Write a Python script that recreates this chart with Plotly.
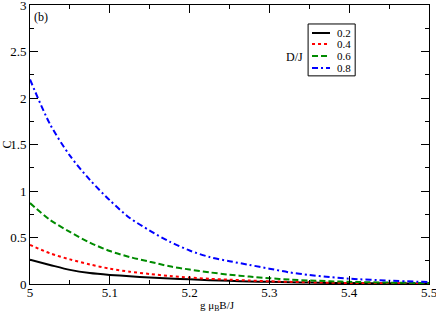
import plotly.graph_objects as go

x_vals = [5.0, 5.025, 5.05, 5.075, 5.1, 5.125, 5.15, 5.175, 5.2, 5.225, 5.25,
          5.275, 5.3, 5.325, 5.35, 5.375, 5.4, 5.45, 5.5]
c_02 = [0.26, 0.205, 0.152, 0.118, 0.098, 0.083, 0.069, 0.058, 0.05, 0.041, 0.034,
        0.028, 0.023, 0.018, 0.015, 0.012, 0.01, 0.007, 0.004]
c_04 = [0.42, 0.33, 0.265, 0.21, 0.165, 0.132, 0.108, 0.086, 0.07, 0.056, 0.046,
        0.037, 0.029, 0.023, 0.018, 0.014, 0.011, 0.007, 0.004]
c_06 = [0.87, 0.69, 0.56, 0.445, 0.355, 0.29, 0.24, 0.19, 0.155, 0.125, 0.1,
        0.08, 0.062, 0.048, 0.038, 0.03, 0.023, 0.015, 0.01]
c_08 = [2.2, 1.72, 1.38, 1.12, 0.9, 0.71, 0.575, 0.455, 0.36, 0.29, 0.245,
        0.205, 0.165, 0.125, 0.097, 0.075, 0.057, 0.036, 0.02]
labels = ["0.2", "0.4", "0.6", "0.8"]
legend_title = "D/J"
x_title = "g μ<sub>B</sub>B/J"
y_title = "C"

FONT = "Liberation Serif, Times New Roman, serif"
series = [c_02, c_04, c_06, c_08]
colors = ["#000000", "#ff0000", "#008b00", "#0000ff"]
dashes = ["solid", "dot", "6px,3px", "6px,3px,2px,3px"]

fig = go.Figure()
for ys, lab, col, dsh in zip(series, labels, colors, dashes):
    fig.add_trace(go.Scatter(x=x_vals, y=ys, mode="lines", name=lab, showlegend=False,
                             line=dict(color=col, width=2, dash=dsh, shape="spline", smoothing=0.8)))

axis_common = dict(showline=True, linecolor="black", linewidth=1, mirror="allticks",
                   ticks="inside", ticklen=8, tickcolor="black", tickwidth=1,
                   showgrid=False, zeroline=False, automargin=False,
                   ticklabeloverflow="allow",
                   tickfont=dict(family=FONT, size=13, color="black"))

fig.update_xaxes(range=[5, 5.5], dtick=0.1, tick0=5, ticklabelstandoff=-4,
                 minor=dict(dtick=0.05, ticks="inside", ticklen=4, tickcolor="black", showgrid=False),
                 **axis_common)
fig.update_yaxes(range=[0, 3], dtick=0.5, tick0=0,
                 minor=dict(dtick=0.25, ticks="inside", ticklen=4, tickcolor="black", showgrid=False),
                 title=dict(text=y_title, font=dict(family=FONT, size=12, color="black"), standoff=0),
                 **axis_common)

# manual legend box in paper coordinates
box = dict(x0=0.697, x1=0.815, y0=0.746, y1=0.932)
row_y = [0.8996, 0.8602, 0.8172, 0.7742]
shapes = [dict(type="rect", xref="paper", yref="paper", **box,
               line=dict(color="black", width=1), fillcolor="white", layer="above")]
annotations = [
    dict(text="(b)", x=0.005, y=0.99, xref="paper", yref="paper",
         xanchor="left", yanchor="top", showarrow=False,
         font=dict(family=FONT, size=12, color="black")),
    dict(text=legend_title, x=0.689, y=0.8136, xref="paper", yref="paper",
         xanchor="right", yanchor="middle", showarrow=False,
         font=dict(family=FONT, size=12, color="black")),
    dict(text=x_title, x=0.4687, y=-0.079, xref="paper", yref="paper",
         xanchor="center", yanchor="middle", showarrow=False,
         font=dict(family=FONT, size=11, color="black")),
]
for lab, col, dsh, ry in zip(labels, colors, dashes, row_y):
    shapes.append(dict(type="line", xref="paper", yref="paper", x0=0.7068, x1=0.7519, y0=ry, y1=ry,
                       line=dict(color=col, width=2, dash=dsh), layer="above"))
    annotations.append(dict(text=lab, x=0.765, y=ry, xref="paper", yref="paper",
                            xanchor="left", yanchor="middle", showarrow=False,
                            font=dict(family=FONT, size=11, color="black")))

fig.update_layout(
    width=436, height=311,
    margin=dict(l=30, r=7, t=5, b=27),
    paper_bgcolor="white", plot_bgcolor="white",
    font=dict(family=FONT, size=12, color="black"),
    showlegend=False,
    shapes=shapes,
    annotations=annotations,
)

fig.write_html("out.html", config={"displayModeBar": False},
               post_script="document.body.style.margin='0';")
